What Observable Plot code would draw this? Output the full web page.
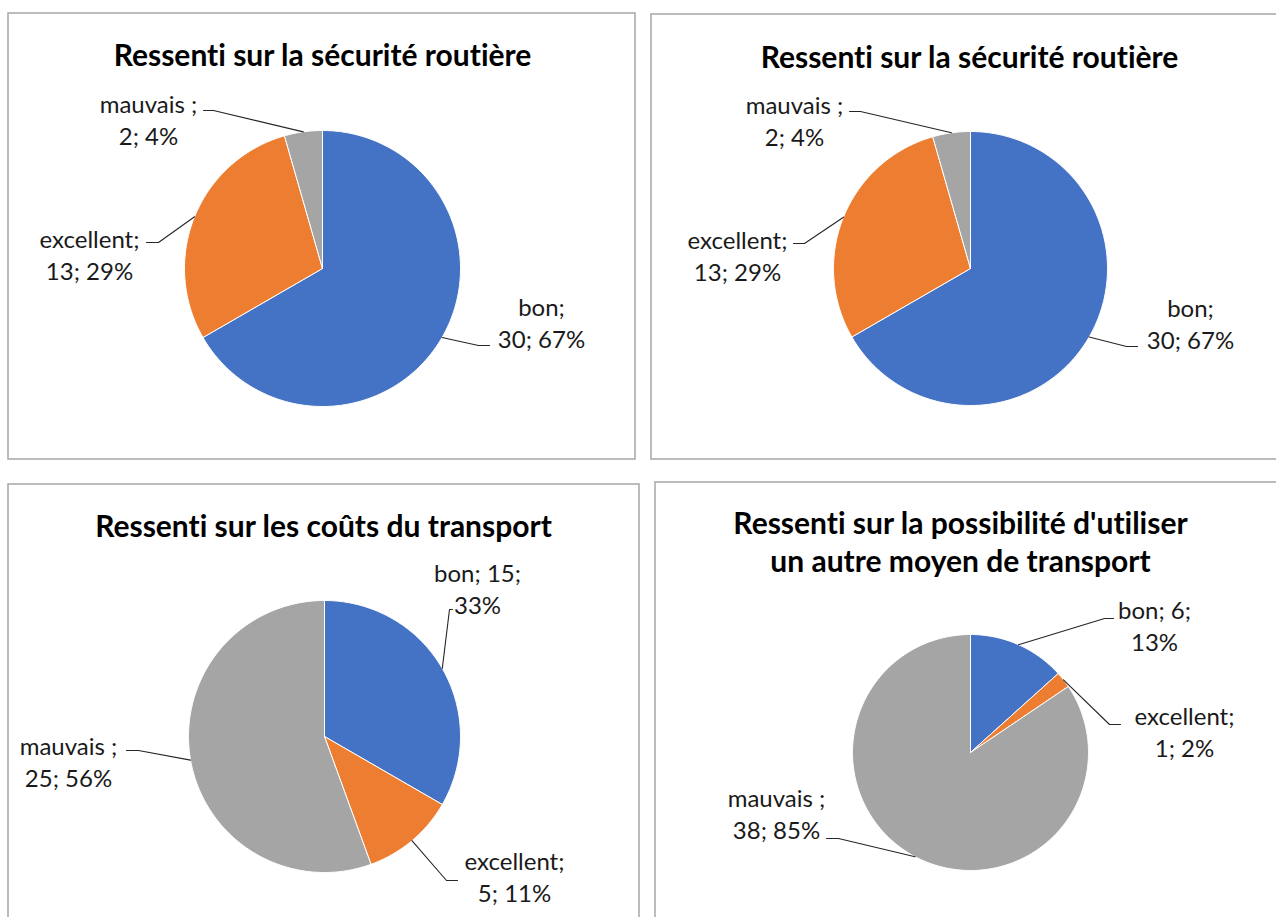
<!DOCTYPE html>
<html>
<head>
<meta charset="utf-8">
<script src="https://cdn.jsdelivr.net/npm/d3@7"></script>
<script src="https://cdn.jsdelivr.net/npm/@observablehq/plot@0.6"></script>
<style>
  html, body { margin: 0; padding: 0; background: #fff; }
  #chart { width: 1276px; height: 917px; overflow: hidden; }
  #chart svg text { font-variant-ligatures: none; font-feature-settings: "liga" 0, "clig" 0; }
</style>
</head>
<body>
<div id="chart"></div>
<script>
// ---- data ----
const categories = ["bon", "excellent", "mauvais "];
const sliceColors = ["#4472C4", "#ED7D31", "#A5A5A5"];
const titles = [
  "Ressenti sur la sécurité routière",
  "Ressenti sur la sécurité routière",
  "Ressenti sur les coûts du transport",
  "Ressenti sur la possibilité d'utiliser\nun autre moyen de transport"
];
const securiteA = [30, 13, 2];
const securiteB = [30, 13, 2];
const couts = [15, 5, 25];
const autreMoyen = [6, 1, 38];
const seriesValues = [securiteA, securiteB, couts, autreMoyen];
// after which part of "cat; n; p%" the label wraps (1 = after category, 2 = after count)
const labelWrap = [[1, 1, 1], [1, 1, 1], [2, 1, 1], [2, 1, 1]];

// ---- layout (pixels) ----
const W = 1276, H = 917;
const panels = [
  {box: [8, 13, 635, 459], cx: 322, cy: 268, r: 138, titleX: 322, titleY: 53,
   labels: [{x: 541, y: 321, ex: 478, ey: 345, hx: 489}, {x: 89, y: 253, ex: 158, ey: 242, hx: 146}, {x: 148, y: 118, ex: 213, ey: 110, hx: 203}]},
  {box: [651, 14, 1290, 459], cx: 970, cy: 268, r: 137, titleX: 969, titleY: 55,
   labels: [{x: 1190, y: 322, ex: 1126, ey: 346, hx: 1137}, {x: 737, y: 254, ex: 804, ey: 243, hx: 793}, {x: 794, y: 119, ex: 860, ey: 111, hx: 849}]},
  {box: [8, 484, 639, 940], cx: 324, cy: 736, r: 136, titleX: 323, titleY: 524,
   labels: [{x: 477, y: 587, ex: 449, ey: 609, hx: 452}, {x: 514, y: 875, ex: 446, ey: 880, hx: 457}, {x: 68, y: 760, ex: 138, ey: 750, hx: 126}]},
  {box: [655, 482, 1290, 940], cx: 970, cy: 752, r: 118, titleX: 960, titleY: 540,
   labels: [{x: 1154, y: 624, ex: 1104, ey: 618, hx: 1113}, {x: 1184, y: 730, ex: 1109, ey: 724, hx: 1120}, {x: 776, y: 812, ex: 838, ey: 838, hx: 826}]}
];

// percentages rounded so that they sum to 100 (largest remainder), as in the source labels
function roundedPercents(vals) {
  const total = d3.sum(vals);
  const raw = vals.map(v => v / total * 100);
  const out = raw.map(Math.floor);
  let rest = 100 - d3.sum(out);
  const order = d3.range(vals.length).sort((a, b) => (raw[b] - out[b]) - (raw[a] - out[a]));
  for (let k = 0; k < rest; k++) out[order[k]]++;
  return out;
}

// ---- build mark data ----
const slicePts = [], leaderPts = [], labelRows = [], titleRows = [], frames = [];
panels.forEach((p, pi) => {
  const vals = seriesValues[pi];
  const total = d3.sum(vals);
  const pcts = roundedPercents(vals);
  let acc = 0;
  frames.push({x1: p.box[0], y1: p.box[1], x2: p.box[2], y2: p.box[3]});
  titleRows.push({x: p.titleX, y: p.titleY, text: titles[pi]});
  vals.forEach((v, i) => {
    const a0 = acc / total * 2 * Math.PI;
    acc += v;
    const a1 = acc / total * 2 * Math.PI;
    const id = pi + "-" + i;
    const pt = a => ({id, color: sliceColors[i], x: p.cx + p.r * Math.sin(a), y: p.cy - p.r * Math.cos(a)});
    slicePts.push({id, color: sliceColors[i], x: p.cx, y: p.cy});
    const steps = Math.max(2, Math.ceil((a1 - a0) / (Math.PI / 180)));
    for (let s = 0; s <= steps; s++) slicePts.push(pt(a0 + (a1 - a0) * s / steps));
    slicePts.push({id, color: sliceColors[i], x: p.cx, y: p.cy});
    // label
    const parts = [categories[i], String(v), pcts[i] + "%"];
    const w = labelWrap[pi][i];
    const text = parts.slice(0, w).join("; ") + ";\n" + parts.slice(w).join("; ");
    const L = p.labels[i];
    labelRows.push({x: L.x, y: L.y, text});
    // leader
    const am = (a0 + a1) / 2;
    leaderPts.push({id, x: p.cx + p.r * Math.sin(am), y: p.cy - p.r * Math.cos(am)});
    leaderPts.push({id, x: L.ex, y: L.ey});
    leaderPts.push({id, x: L.hx, y: L.ey});
  });
});

const chart = Plot.plot({
  width: W, height: H,
  margin: 0,
  x: {domain: [0, W], range: [0, W], axis: null},
  y: {domain: [0, H], range: [0, H], axis: null},
  color: {type: "identity"},
  style: {background: "#fff", overflow: "hidden"},
  marks: [
    Plot.rect(frames, {x1: "x1", y1: "y1", x2: "x2", y2: "y2", fill: "none", stroke: "#a6a6a6", strokeWidth: 1.5}),
    Plot.line(slicePts, {x: "x", y: "y", z: "id", fill: "color", stroke: "#fff", strokeWidth: 1, strokeLinejoin: "round", curve: "linear"}),
    Plot.line(leaderPts, {x: "x", y: "y", z: "id", stroke: "#262626", strokeWidth: 1.1}),
    Plot.text(labelRows, {x: "x", y: "y", text: "text", fontFamily: "Lato", fontSize: 24, fill: "#1a1a1a", lineHeight: 1.33, textAnchor: "middle", lineAnchor: "middle"}),
    Plot.text(titleRows, {x: "x", y: "y", text: "text", fontFamily: "Lato", fontWeight: "bold", fontSize: 30, fill: "#000", lineHeight: 1.27, textAnchor: "middle", lineAnchor: "middle"})
  ]
});
document.getElementById("chart").appendChild(chart);
</script>
</body>
</html>
